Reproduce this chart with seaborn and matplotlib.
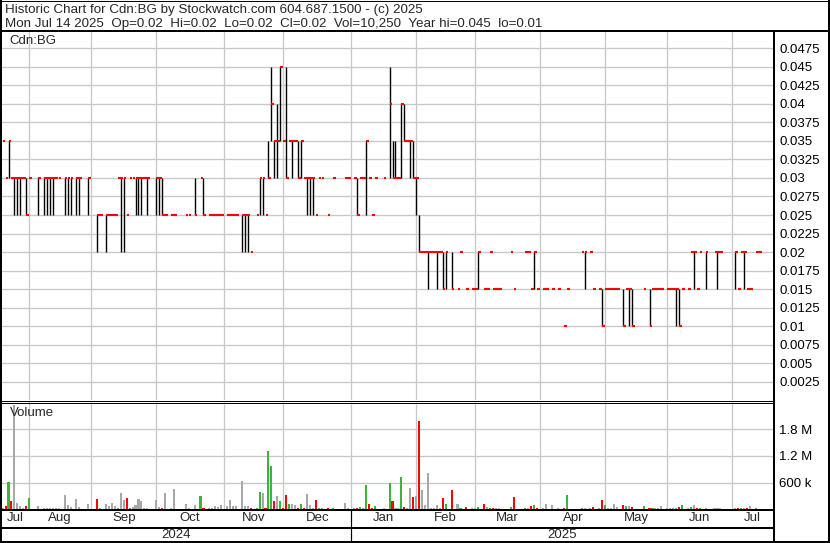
import numpy as np
import pandas as pd
import matplotlib
matplotlib.use("Agg")
import matplotlib.pyplot as plt
from matplotlib.lines import Line2D
from matplotlib.ticker import FixedLocator, FixedFormatter
import seaborn as sns

N = None
first_day = "2024-07-19"
last_day = "2025-07-14"

# prices in thousandths of a dollar, one entry per weekday (None = no trade)
close_mils = [
    35, 30, 35, 30, 30, 30, 30, 30, 25, 30,
    N, N, 30, N, 30, 30, 30, 30, 30, 30,
    N, 30, 30, 30, N, 30, 30, N, N, 30,
    N, N, 25, 25, N, 25, 25, 25, 25, 30,
    30, 30, 25, 30, 30, 30, 30, 30, 30, 30,
    N, N, 30, 30, 25, 25, N, 25, 25, N,
    N, N, 25, 25, N, 25, N, 30, 25, N,
    25, 25, 25, 25, 25, N, 25, 25, 25, 25,
    N, 25, 25, 25, 20, N, 25, 30, 30, 25,
    30, 40, 35, 35, 45, 35, 30, 35, 35, 35,
    30, 35, 30, 30, 30, 30, 25, 30, 30, N,
    25, N, 30, N, N, N, 30, 30, N, 30,
    25, 30, 30, 35, 30, 25, 30, N, N, 30,
    N, 40, 30, 30, 30, 40, 35, 35, 35, 30,
    30, 20, 20, 20, 20, 20, 20, 20, 20, 15,
    20, N, 15, N, 15, 20, N, 15, N, 15,
    15, 20, N, 15, 15, 20, 15, 15, 15, N,
    N, N, 20, 15, N, N, N, 20, 20, 15,
    20, 15, N, 15, 15, N, 15, N, 15, N,
    10, 15, N, N, N, N, 20, 20, N, 20,
    15, N, 15, 10, 15, 15, 15, 15, 15, N,
    10, 15, 15, 10, N, N, N, 15, N, 10,
    15, 15, 15, 15, N, 15, 15, 15, 15, 10,
    15, N, 15, 20, 20, 15, 20, N, 20, N,
    N, 20, 20, 20, N, N, N, N, 20, 15,
    20, 20, 15, 15, N, 20, 20,
]
high_mils = [
    35, 30, 35, 30, 30, 30, 30, 30, 30, 30,
    N, N, 30, N, 30, 30, 30, 30, 30, 30,
    N, 30, 30, 30, N, 30, 30, N, N, 30,
    N, N, 25, 25, N, 25, 25, 25, 25, 30,
    30, 30, 25, 30, 30, 30, 30, 30, 30, 30,
    N, N, 30, 30, 30, 25, N, 25, 25, N,
    N, N, 25, 25, N, 30, N, 30, 30, N,
    25, 25, 25, 25, 25, N, 25, 25, 25, 25,
    N, 25, 25, 25, 20, N, 25, 30, 30, 25,
    35, 45, 35, 40, 45, 35, 45, 35, 35, 35,
    35, 35, 30, 30, 30, 30, 25, 30, 30, N,
    25, N, 30, N, N, N, 30, 30, N, 30,
    30, 30, 30, 35, 30, 25, 30, N, N, 30,
    N, 45, 35, 35, 30, 40, 40, 35, 35, 35,
    30, 25, 20, 20, 20, 20, 20, 20, 20, 20,
    20, N, 20, N, 15, 20, N, 15, N, 15,
    15, 20, N, 15, 15, 20, 15, 15, 15, N,
    N, N, 20, 15, N, N, N, 20, 20, 15,
    20, 15, N, 15, 15, N, 15, N, 15, N,
    10, 15, N, N, N, N, 20, 20, N, 20,
    15, N, 15, 15, 15, 15, 15, 15, 15, N,
    15, 15, 15, 15, N, N, N, 15, N, 15,
    15, 15, 15, 15, N, 15, 15, 15, 15, 15,
    15, N, 15, 20, 20, 15, 20, N, 20, N,
    N, 20, 20, 20, N, N, N, N, 20, 15,
    20, 20, 15, 15, N, 20, 20,
]
low_mils = [
    35, 30, 30, 30, 25, 25, 25, 30, 25, 30,
    N, N, 25, N, 25, 25, 25, 25, 30, 30,
    N, 25, 25, 25, N, 25, 25, N, N, 25,
    N, N, 20, 25, N, 20, 25, 25, 25, 30,
    20, 20, 25, 30, 30, 25, 25, 25, 30, 25,
    N, N, 25, 25, 25, 25, N, 25, 25, N,
    N, N, 25, 25, N, 25, N, 30, 25, N,
    25, 25, 25, 25, 25, N, 25, 25, 25, 25,
    N, 20, 20, 20, 20, N, 25, 25, 25, 25,
    30, 35, 30, 30, 35, 35, 30, 35, 30, 35,
    30, 30, 30, 25, 25, 25, 25, 30, 30, N,
    25, N, 30, N, N, N, 30, 30, N, 30,
    25, 30, 30, 25, 30, 25, 30, N, N, 30,
    N, 30, 30, 30, 30, 30, 35, 35, 30, 30,
    25, 20, 20, 20, 15, 20, 20, 15, 20, 15,
    15, N, 15, N, 15, 20, N, 15, N, 15,
    15, 15, N, 15, 15, 20, 15, 15, 15, N,
    N, N, 20, 15, N, N, N, 20, 20, 15,
    15, 15, N, 15, 15, N, 15, N, 15, N,
    10, 15, N, N, N, N, 20, 15, N, 20,
    15, N, 15, 10, 15, 15, 15, 15, 15, N,
    10, 15, 10, 10, N, N, N, 15, N, 10,
    15, 15, 15, 15, N, 15, 15, 15, 10, 10,
    15, N, 15, 20, 15, 15, 20, N, 15, N,
    N, 20, 15, 20, N, N, N, N, 15, 15,
    20, 15, 15, 15, N, 20, 20,
]
# volume in thousands of shares
volume_k = [
    20, 76, 602, 190, 2350, 150, 76, 38, 76, 260,
    0, 0, 76, 0, 30, 30, 30, 30, 30, 30,
    0, 313, 100, 46, 0, 236, 53, 0, 0, 122,
    0, 0, 236, 30, 0, 130, 76, 145, 76, 30,
    374, 213, 260, 30, 61, 100, 236, 175, 38, 30,
    0, 0, 213, 53, 30, 374, 0, 30, 465, 0,
    0, 0, 122, 30, 0, 100, 0, 305, 30, 0,
    30, 30, 76, 46, 100, 0, 76, 213, 76, 76,
    0, 625, 76, 76, 30, 0, 30, 396, 374, 30,
    1300, 968, 190, 290, 190, 30, 328, 114, 114, 100,
    30, 130, 30, 350, 100, 30, 213, 30, 30, 0,
    30, 0, 30, 0, 0, 0, 145, 30, 0, 30,
    30, 46, 30, 541, 122, 30, 76, 0, 0, 30,
    0, 580, 175, 30, 30, 717, 53, 30, 488, 282,
    305, 1980, 442, 100, 808, 30, 30, 100, 30, 260,
    122, 0, 442, 0, 114, 30, 0, 53, 0, 30,
    30, 53, 0, 122, 46, 30, 30, 30, 30, 0,
    0, 0, 53, 282, 0, 0, 0, 30, 30, 76,
    100, 30, 0, 30, 122, 0, 100, 0, 30, 0,
    30, 328, 0, 0, 0, 0, 30, 30, 0, 30,
    53, 0, 30, 213, 100, 30, 30, 122, 61, 0,
    100, 76, 76, 53, 0, 0, 0, 76, 0, 30,
    30, 30, 30, 76, 0, 30, 30, 30, 30, 53,
    100, 0, 30, 46, 100, 30, 30, 0, 30, 0,
    0, 30, 30, 30, 0, 0, 0, 0, 30, 30,
    30, 30, 30, 76, 0, 30, 10.25,
]

price_tick_labels = ["0.0025", "0.005", "0.0075", "0.01", "0.0125", "0.015",
                     "0.0175", "0.02", "0.0225", "0.025", "0.0275", "0.03",
                     "0.0325", "0.035", "0.0375", "0.04", "0.0425", "0.045",
                     "0.0475"]
volume_ticks = [600_000, 1_200_000, 1_800_000]
volume_tick_labels = ["600 k", "1.2 M", "1.8 M"]
header_line1 = "Historic Chart for Cdn:BG by Stockwatch.com 604.687.1500 - (c) 2025"
header_line2 = ("Mon Jul 14 2025  Op=0.02  Hi=0.02  Lo=0.02  Cl=0.02  "
                "Vol=10,250  Year hi=0.045  lo=0.01")
symbol = "Cdn:BG"

# ---------------------------------------------------------------- data frame
dates = pd.bdate_range(first_day, last_day)
n = min(len(dates), len(close_mils), len(high_mils), len(low_mils), len(volume_k))
df = pd.DataFrame({
    "date": dates[:n],
    "slot": np.arange(n),
    "close": pd.to_numeric(pd.Series(close_mils[:n], dtype=object), errors="coerce") / 1000,
    "high": pd.to_numeric(pd.Series(high_mils[:n], dtype=object), errors="coerce") / 1000,
    "low": pd.to_numeric(pd.Series(low_mils[:n], dtype=object), errors="coerce") / 1000,
    "volume": np.array(volume_k[:n], dtype=float) * 1000,
})
prev = df["close"].ffill().shift(1)
df["dir"] = np.where(df["close"] > prev + 1e-9, "up",
                     np.where(df["close"] < prev - 1e-9, "down", "flat"))

# ---------------------------------------------------------------- layout
W, H = 830, 543
sns.set_style("white")
plt.rcParams["font.family"] = ["Liberation Sans", "DejaVu Sans"]
FS = 9.5
PX = 72 / 100  # one pixel in points

fig = plt.figure(figsize=(W / 100, H / 100), dpi=100)
fig.patch.set_facecolor("white")


def rect(x0, y0, x1, y1):
    return [x0 / W, 1 - y1 / H, (x1 - x0) / W, (y1 - y0) / H]


slot_w = 2.954
x_off = 2.6
xl = (1 - x_off) / slot_w
xr = (773 - x_off) / slot_w

ax_p = fig.add_axes(rect(1, 31, 773, 400.3))
ax_v = fig.add_axes(rect(1, 402.3, 773, 509.3))
ax_d = fig.add_axes(rect(1, 509.3, 773, 541))

month_starts = pd.date_range("2024-08-01", "2025-07-01", freq="MS")
grid_slots = dates.searchsorted(month_starts, side="right") - 1
grid_color = "#c8c8c8"

# ---- price panel
price_ticks = [float(t) for t in price_tick_labels]
rng = df.dropna(subset=["close"])
rng_bar = rng[rng["high"] > rng["low"]]
ax_p.vlines(rng_bar["slot"], rng_bar["low"], rng_bar["high"], color="black",
            lw=1.0, zorder=3)
ax_p.hlines(rng["close"], rng["slot"], rng["slot"] + 0.92, color="#ff0000",
            lw=1.5, zorder=4)
ax_p.set_xlim(xl, xr)
ax_p.set_ylim(0, 369.3 / 18.53 * 0.0025)
ax_p.yaxis.set_major_locator(FixedLocator(price_ticks))
ax_p.yaxis.set_major_formatter(FixedFormatter(price_tick_labels))
ax_p.yaxis.tick_right()
ax_p.xaxis.set_major_locator(FixedLocator(grid_slots))
ax_p.tick_params(axis="x", length=0, labelbottom=False)
ax_p.tick_params(axis="y", length=0, pad=4.6, labelsize=FS, labelcolor="black")
ax_p.grid(True, color=grid_color, lw=1.3 * PX)
ax_p.set_axisbelow(True)

# ---- volume panel
vol = df[df["volume"] > 0]
sns.barplot(data=vol, x="slot", y="volume", hue="dir",
            hue_order=["up", "down", "flat"],
            palette={"up": "#3cb43c", "down": "#ff0000", "flat": "#a8a8a8"},
            native_scale=True, dodge=False, width=0.7, errorbar=None,
            saturation=1, legend=False, linewidth=0, ax=ax_v, zorder=3)
ax_v.set_xlim(xl, xr)
ax_v.set_ylim(0, 2_400_000)
ax_v.yaxis.set_major_locator(FixedLocator(volume_ticks))
ax_v.yaxis.set_major_formatter(FixedFormatter(volume_tick_labels))
ax_v.yaxis.tick_right()
ax_v.xaxis.set_major_locator(FixedLocator(grid_slots))
ax_v.tick_params(axis="x", length=0, labelbottom=False)
ax_v.tick_params(axis="y", length=0, pad=4.2, labelsize=FS, labelcolor="black")
ax_v.set_xlabel("")
ax_v.set_ylabel("")
ax_v.grid(True, color=grid_color, lw=1.3 * PX)
ax_v.set_axisbelow(True)

# ---- date axis
ax_d.set_xlim(xl, xr)
ax_d.set_ylim(541, 509.3)
ax_d.axis("off")
bounds = np.concatenate([[xl], grid_slots, [xr]]).astype(float)
mids = (bounds[:-1] + bounds[1:]) / 2
names = [dates[0].strftime("%b")] + [m.strftime("%b") for m in month_starts]
for xm, nm in zip(mids, names):
    ax_d.text(xm, 518.3, nm, ha="center", va="center", fontsize=FS)
jan_slot = grid_slots[list(month_starts).index(pd.Timestamp("2025-01-01"))]
ax_d.axvline(jan_slot, color="black", lw=1.2 * PX)
ax_d.text((xl + jan_slot) / 2, 535, str(dates[0].year), ha="center",
          va="center", fontsize=FS)
ax_d.text((jan_slot + xr) / 2, 535, str(dates[-1].year), ha="center",
          va="center", fontsize=FS)

for a in (ax_p, ax_v):
    for s in a.spines.values():
        s.set_visible(False)

# ---- overlay: frame lines and header text (pixel coordinates)
ov = fig.add_axes([0, 0, 1, 1], zorder=10)
ov.set_xlim(0, W)
ov.set_ylim(H, 0)
ov.axis("off")
ov.patch.set_alpha(0)


def hline(y, x0, x1, w):
    ov.add_line(Line2D([x0, x1], [y, y], color="black", lw=w * PX,
                       solid_capstyle="butt"))


def vline(x, y0, y1, w):
    ov.add_line(Line2D([x, x], [y0, y1], color="black", lw=w * PX,
                       solid_capstyle="butt"))


hline(0.5, 0, W, 1)
hline(31, 0, W, 2)
hline(400.5, 0, 773, 1)
hline(402.5, 0, 773, 1)
hline(509.8, 0, 773, 2)
hline(527.5, 0, 773, 2)
hline(541.5, 0, W, 2)
vline(1, 0, H, 2)
vline(829, 0, H, 2)
vline(773.6, 31, H, 2)

ov.text(5, 9.5, header_line1, ha="left", va="center", fontsize=9.6)
ov.text(5, 23.5, header_line2, ha="left", va="center", fontsize=9.6)
ov.text(9, 41.5, symbol, ha="left", va="center", fontsize=FS)
ov.text(10, 413.5, "Volume", ha="left", va="center", fontsize=FS)

fig.savefig("out.png", dpi=100, facecolor="white")
